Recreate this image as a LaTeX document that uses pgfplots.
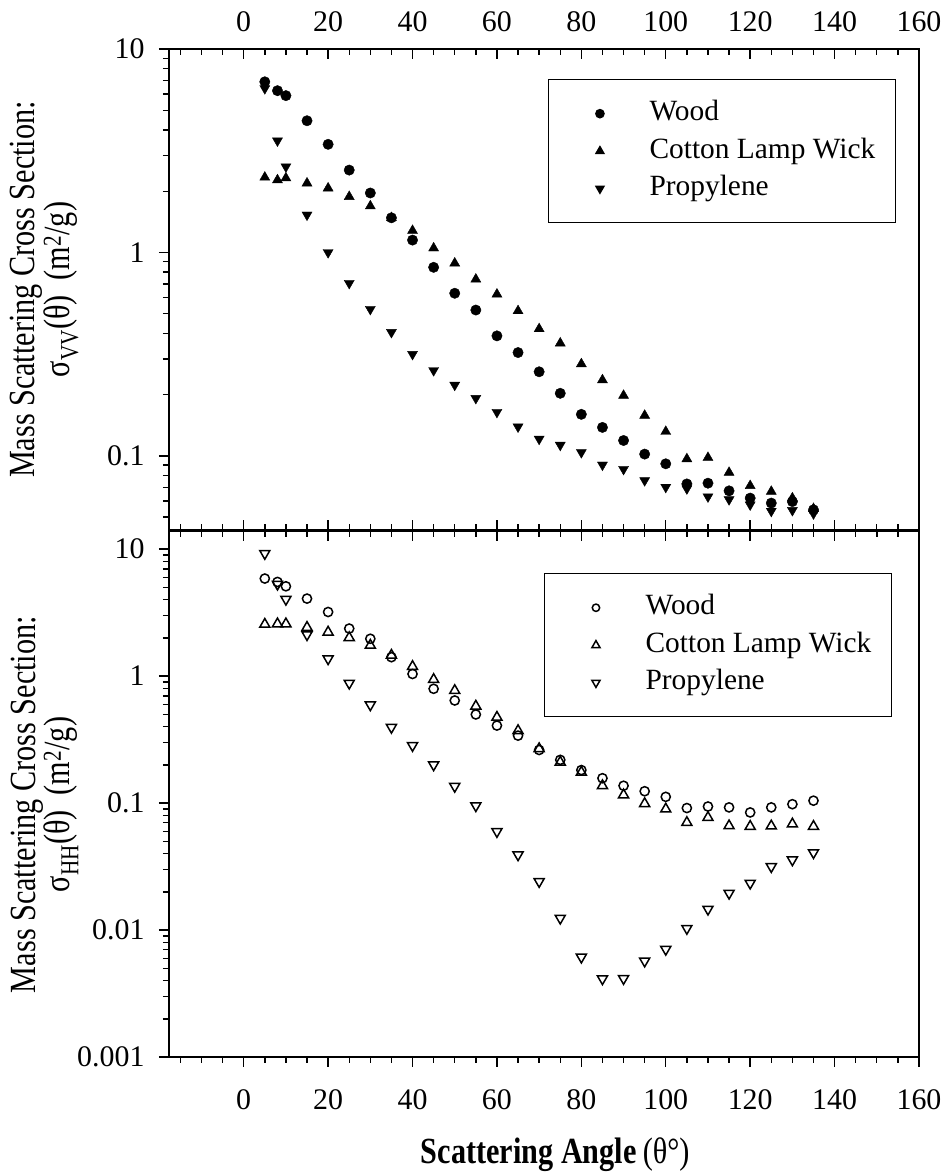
\documentclass[border=0pt]{standalone}
\usepackage{pgfplots}
\pgfplotsset{compat=1.18}
\usepackage{fontspec}
\setmainfont{Liberation Serif}
\newfontfamily\condfont{Liberation Serif}[FakeStretch=0.82]

\pgfplotsset{
  mybase/.style={
    scale only axis, width=750bp,
    xmin=-17.7, xmax=160,
    axis line style={line width=1.6bp},
    every tick/.style={black, line width=1.4bp},
    major tick length=10bp, minor tick length=6bp,
    xtick={0,20,40,60,80,100,120,140,160},
    xticklabels={0,20,40,60,80,100,120,140,160},
    minor xtick={-15,-10,-5,5,10,15,25,30,35,45,50,55,65,70,75,85,90,95,105,110,115,125,130,135,145,150,155},
    ytick pos=left,
    tick label style={font=\fontsize{30}{34}\selectfont},
    yticklabel style={xshift=-11bp},
    legend cell align=left,
    legend image code/.code={\path (0bp,0bp) (56bp,0bp);\draw[mark repeat=2,mark phase=2,##1,every mark/.append style={scale=0.8}] plot coordinates {(0bp,0bp)(31bp,0bp)(62bp,0bp)};},
    ylabel style={anchor=center, align=center, font=\fontsize{37}{35}\selectfont\condfont},
  },
  mylgd/.style={legend style={at={#1}, anchor=north east, draw=black, line width=1.3bp,
      inner xsep=20bp, inner ysep=20bp, row sep=9.5bp,
      font=\fontsize{29.5}{34}\selectfont,
      nodes={inner sep=0pt, text height=21bp, text depth=7bp},
      /tikz/every odd column/.append style={column sep=24bp}}},
}

\begin{document}
\begin{tikzpicture}
\path[use as bounding box] (0,0) rectangle (946bp,-1174bp);

% ---------------- top panel: sigma_VV ----------------
\begin{axis}[ymode=log, mybase, at={(169bp,-530bp)}, anchor=south west, height=481bp,
  ymin=0.0432, ymax=10,
  xtick pos=both, xticklabel pos=upper, xtick align=inside, ytick align=outside,
  xticklabel style={yshift=14bp},
  ytick={0.1,1,10}, yticklabels={0.1,1,10},
  minor ytick={0.05,0.06,0.07,0.08,0.09,0.2,0.3,0.4,0.5,0.6,0.7,0.8,0.9,2,3,4,5,6,7,8,9},
  ylabel={Mass Scattering Cross Section:\\σ\textsubscript{VV}(θ)\ \ (m\textsuperscript{2}/g)},
  ylabel style={at={(axis description cs:-0.166,0.5)}},
  mylgd={(0.9693,0.9376)},
]
\addplot[only marks, mark=*, mark size=5.2bp, black] coordinates {
(5,6.9)(8,6.24)(10,5.9)(15,4.44)(20,3.40)(25,2.54)(30,1.96)(35,1.48)(40,1.15)(45,0.845)(50,0.63)(55,0.521)(60,0.389)(65,0.322)(70,0.259)(75,0.203)(80,0.160)(85,0.138)(90,0.119)(95,0.102)(100,0.0914)(105,0.0728)(110,0.0734)(115,0.0673)(120,0.062)(125,0.0586)(130,0.0596)(135,0.0543)};
\addlegendentry{Wood}
\addplot[only marks, mark=triangle*, mark size=5.8bp, black] coordinates {
(5,2.34)(8,2.27)(10,2.32)(15,2.19)(20,2.07)(25,1.88)(30,1.69)(35,1.48)(40,1.28)(45,1.05)(50,0.885)(55,0.738)(60,0.623)(65,0.516)(70,0.421)(75,0.358)(80,0.283)(85,0.236)(90,0.198)(95,0.158)(100,0.1316)(105,0.0966)(110,0.098)(115,0.0828)(120,0.0713)(125,0.0668)(130,0.062)(135,0.055)};
\addlegendentry{Cotton Lamp Wick}
\addplot[only marks, mark=triangle*, mark size=5.8bp, mark options={rotate=180}, black] coordinates {
(5,6.4)(8,3.54)(10,2.64)(15,1.53)(20,1.0)(25,0.706)(30,0.526)(35,0.405)(40,0.316)(45,0.263)(50,0.223)(55,0.192)(60,0.164)(65,0.139)(70,0.121)(75,0.113)(80,0.104)(85,0.0903)(90,0.086)(95,0.0757)(100,0.0702)(105,0.069)(110,0.063)(115,0.061)(120,0.0575)(125,0.0535)(130,0.054)(135,0.052)};
\addlegendentry{Propylene}
\end{axis}

% ---------------- bottom panel: sigma_HH ----------------
\begin{axis}[ymode=log, mybase, at={(169bp,-1057bp)}, anchor=south west, height=526bp,
  ymin=0.001, ymax=13.9,
  xtick pos=lower, tick align=outside,
  xticklabel style={yshift=-19bp},
  ytick={0.001,0.01,0.1,1,10}, yticklabels={0.001,0.01,0.1,1,10},
  minor ytick={0.002,0.003,0.004,0.005,0.006,0.007,0.008,0.009,0.02,0.03,0.04,0.05,0.06,0.07,0.08,0.09,0.2,0.3,0.4,0.5,0.6,0.7,0.8,0.9,2,3,4,5,6,7,8,9},
  ylabel={Mass Scattering Cross Section:\\σ\textsubscript{HH}(θ)\ \ (m\textsuperscript{2}/g)},
  ylabel style={at={(axis description cs:-0.166,0.48)}},
  xlabel={{\bfseries Scattering Angle}\,(θ°)},
  xlabel style={at={(axis description cs:0.515,-0.186)}, anchor=center, font=\fontsize{37}{40}\selectfont\condfont},
  mylgd={(0.964,0.920)},
]
\addplot[only marks, mark=o, mark size=4.6bp, mark options={line width=1.5bp}, black] coordinates {
(5,5.87)(8,5.52)(10,5.1)(15,4.08)(20,3.2)(25,2.37)(30,1.97)(35,1.41)(40,1.04)(45,0.795)(50,0.643)(55,0.499)(60,0.408)(65,0.34)(70,0.262)(75,0.219)(80,0.182)(85,0.157)(90,0.137)(95,0.124)(100,0.112)(105,0.0914)(110,0.094)(115,0.0925)(120,0.0844)(125,0.0925)(130,0.098)(135,0.1045)};
\addlegendentry{Wood}
\addplot[only marks, mark=triangle, mark size=5.8bp, mark options={line width=1.5bp}, black] coordinates {
(5,2.56)(8,2.58)(10,2.58)(15,2.42)(20,2.22)(25,2.01)(30,1.75)(35,1.46)(40,1.19)(45,0.94)(50,0.77)(55,0.58)(60,0.474)(65,0.372)(70,0.268)(75,0.21)(80,0.175)(85,0.137)(90,0.116)(95,0.099)(100,0.0897)(105,0.0703)(110,0.077)(115,0.0662)(120,0.0655)(125,0.066)(130,0.0684)(135,0.0655)};
\addlegendentry{Cotton Lamp Wick}
\addplot[only marks, mark=triangle, mark size=5.8bp, mark options={rotate=180, line width=1.5bp}, black] coordinates {
(5,9.25)(8,5.3)(10,4.03)(15,2.12)(20,1.37)(25,0.88)(30,0.594)(35,0.395)(40,0.284)(45,0.2)(50,0.1355)(55,0.0953)(60,0.0597)(65,0.0391)(70,0.0241)(75,0.0124)(80,0.00612)(85,0.00413)(90,0.00415)(95,0.0057)(100,0.00705)(105,0.0103)(110,0.0146)(115,0.0195)(120,0.0234)(125,0.0316)(130,0.0357)(135,0.0407)};
\addlegendentry{Propylene}
\end{axis}

% inward ticks on the top edge of the bottom panel
\begin{axis}[ymode=log, mybase, at={(169bp,-1057bp)}, anchor=south west, height=526bp,
  ymin=0.001, ymax=13.9, hide y axis,
  xtick pos=upper, tick align=inside, xticklabels={},
]
\end{axis}
\end{tikzpicture}
\end{document}
